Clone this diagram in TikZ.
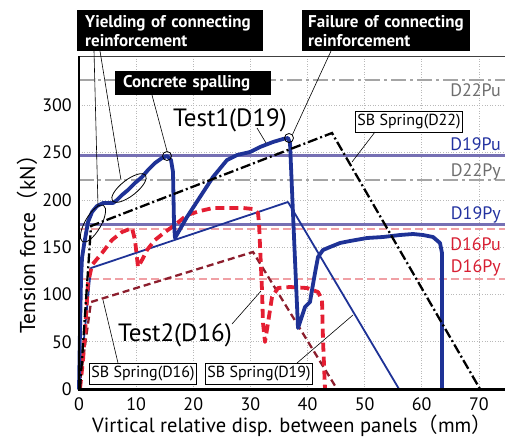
\documentclass[tikz,border=0pt]{standalone}
\usepackage{fontspec}
\setmainfont{PT Sans}
\newfontfamily\cjk{Noto Sans CJK JP}
\usetikzlibrary{shapes.geometric}
\definecolor{tblue}{RGB}{30,50,150}
\definecolor{tred}{RGB}{228,30,50}
\definecolor{dred}{RGB}{140,30,45}
\definecolor{refpurple}{RGB}{118,112,180}
\definecolor{refpink}{RGB}{240,160,165}
\definecolor{refgray}{RGB}{165,165,165}
\definecolor{lblgray}{RGB}{110,110,110}
\definecolor{lblblue}{RGB}{35,50,160}
\definecolor{lblred}{RGB}{215,30,50}
\definecolor{gridc}{RGB}{185,185,185}
\tikzset{
  gridline/.style={gridc, line width=0.6pt, dotted},
  refD22/.style={refgray, line width=2pt, dash pattern=on 15pt off 4pt on 3pt off 4pt},
  refD19/.style={refpurple, line width=3pt},
  refD16/.style={refpink, line width=2pt, dash pattern=on 8pt off 4pt},
  testone/.style={tblue, line width=3.8pt, line join=round, line cap=round},
  testtwo/.style={tred, line width=3.8pt, line join=round, dash pattern=on 9pt off 5pt},
  sbDxxii/.style={black, line width=2.3pt, dash pattern=on 10pt off 3pt on 2pt off 3pt},
  sbDxix/.style={tblue, line width=1.8pt, line join=round},
  sbDxvi/.style={dred, line width=2.3pt, dash pattern=on 7pt off 4pt},
  blackbox/.style={fill=black, text=white, font=\bfseries\fontsize{17}{19}\selectfont, anchor=north west, align=left, inner ysep=0pt},
  sbbox/.style={draw=black, fill=white, line width=0.9pt, font=\fontsize{16}{18}\selectfont, inner xsep=2pt, inner ysep=1pt, minimum height=21pt},
  leader/.style={black, line width=0.6pt},
  ticklbl/.style={font=\fontsize{18}{20}\selectfont, inner sep=0pt},
  rlbl/.style={font=\fontsize{18}{20}\selectfont, anchor=east, inner sep=0pt},
  bigtxt/.style={font=\fontsize{25}{27}\selectfont, inner sep=0pt},
  marker/.style={draw=black, line width=0.8pt, circle, minimum size=9pt, inner sep=0pt},
  oval/.style={draw=black, line width=0.8pt, ellipse, minimum width=42pt, minimum height=16pt, inner sep=0pt}
}
\begin{document}
\begin{tikzpicture}[x=1pt,y=-1pt]
\useasboundingbox (0,0) rectangle (505,440);
% grid
\foreach \gx in {136.1,193.3,250.4,307.5,364.6,421.7,478.9} \draw[gridline] (\gx,56) -- (\gx,389);
\foreach \gy in {341.7,294.4,247.1,199.8,152.5,105.2} \draw[gridline] (79,\gy) -- (505,\gy);
% reference lines
\draw[refD22] (79,80) -- (505,80);
\draw[refD19] (79,155) -- (505,155);
\draw[refD22] (79,179.5) -- (505,179.5);
\draw[refD19] (79,224) -- (505,224);
\draw[refD16] (79,229) -- (505,229);
\draw[refD16] (79,279) -- (505,279);
% right labels
\node[rlbl, text=lblgray] at (501,90) {D22Pu};
\node[rlbl, text=lblblue] at (501,144) {D19Pu};
\node[rlbl, text=lblgray] at (501,172) {D22Py};
\node[rlbl, text=lblblue] at (501,215) {D19Py};
\node[rlbl, text=lblred] at (501,244) {D16Pu};
\node[rlbl, text=lblred] at (501,268) {D16Py};
% SB springs
\draw[sbDxix] (79,389) -- (91,268) -- (288,202) -- (399,389);
\draw[sbDxvi] (79,389) -- (91,302) -- (253,252) -- (337,389);
% Test2
\draw[testtwo] (80,389) -- (83,360) -- (85,333) -- (88,283) -- (92,265) -- (102,253) -- (112,240) -- (122,232) -- (132,228) -- (135,240) -- (138,267) -- (142,260) -- (147,250) -- (155,240) -- (165,232) -- (175,225) -- (187,215) -- (200,211) -- (213,208) -- (227,208) -- (243,208) -- (253,209) -- (258,213) -- (259,223) -- (262,290) -- (263,323) -- (265,342) -- (268,323) -- (272,297) -- (278,288) -- (290,287) -- (307,288) -- (318,292) -- (322,300) -- (323,340) -- (325,389);
% Test1
\draw[testone] (79,389) -- (80,330) -- (81,280) -- (82,258) -- (84,245) -- (88,222) -- (92,212) -- (97,206) -- (103,203) -- (108,203) -- (113,203) -- (117,200) -- (122,195) -- (128,190) -- (135,183) -- (142,177) -- (148,170) -- (155,163) -- (162,158) -- (167,156) -- (171,160) -- (173,172) -- (174,223) -- (175,238) -- (187,217) -- (200,197) -- (213,177) -- (227,160) -- (237,155) -- (250,152) -- (260,147) -- (273,142) -- (283,139) -- (288,138) -- (290,143) -- (292,190) -- (295,260) -- (298,328) -- (300,322) -- (305,307) -- (310,302) -- (312,290) -- (315,273) -- (318,257) -- (323,250) -- (330,247) -- (340,243) -- (350,241) -- (367,238) -- (383,237) -- (400,235) -- (413,234) -- (423,235) -- (433,237) -- (440,243) -- (442,253) -- (442,389);
\draw[sbDxxii] (80,389) -- (91,226) -- (332,133) -- (480,389);
% axes frame
\draw[black!75, line width=0.8pt] (79,56) -- (505,56);
\draw[black, line width=2.4pt] (79,56) -- (79,389.5) -- (505,389.5);
% tick labels
\foreach \v/\py in {0/389,50/341.7,100/294.4,150/247.1,200/199.8,250/152.5,300/105.2}
  \node[ticklbl, anchor=east] at (72,\py) {\v};
\foreach \v/\px in {0/79,10/136.1,20/193.3,30/250.4,40/307.5,50/364.6,60/421.7,70/478.9}
  \node[ticklbl, anchor=north] at (\px,397) {\v};
% axis titles
\node[font=\fontsize{21.5}{23}\selectfont, rotate=90, inner sep=0pt] (ytitle) at (27,239) {Tension force{\cjk（}kN{\cjk）}};
\node[font=\fontsize{20.5}{22}\selectfont, inner sep=0pt] (xtitle) at (292,426) {Virtical relative disp. between panels{\cjk（}mm{\cjk）}};
% markers and ovals
\node[marker] (c1) at (167,156) {};
\node[marker] (c2) at (289,138) {};
\node[oval, rotate=60] (e1) at (93,223.5) {};
\node[oval, rotate=38] (e2) at (129,188) {};
% annotation boxes
\node[blackbox, text width=170pt, inner xsep=8pt, minimum height=41pt] (yld) at (77,10) {Yielding of connecting\\reinforcement};
\node[blackbox, text width=140pt, inner xsep=8pt, minimum height=24pt] (spl) at (115,71) {Concrete spalling};
\node[blackbox, text width=156pt, inner xsep=6pt, minimum height=41pt] (fail) at (302,10) {Failure of connecting\\reinforcement};
\coordinate (ya) at (94,51);
\coordinate (yb) at (100,51);
\coordinate (e1t) at (98,206);
\coordinate (e2t) at (121,180);
\draw[leader] (ya) -- (e1t);
\draw[leader] (yb) -- (e2t);
\coordinate (sa) at (152,95);
\draw[leader] (sa) -- (c1.north);
\coordinate (fa) at (331,51);
\draw[leader] (fa) -- (c2.north east);
% big labels
\node[bigtxt, anchor=base west] (t1) at (173,126) {Test1(D19)};
\node[bigtxt, anchor=base west] (t2) at (118,341) {Test2(D16)};
\coordinate (t1a) at (257,128);
\coordinate (t1b) at (266,143);
\draw[leader] (t1a) -- (t1b);
\coordinate (t2a) at (232,324);
\coordinate (t2b) at (261,291);
\draw[leader] (t2a) -- (t2b);
% SB spring boxes
\node[sbbox, anchor=north west] (sb22) at (355,111) {SB Spring(D22)};
\node[sbbox, anchor=north west] (sb16) at (89,363) {SB Spring(D16)};
\node[sbbox, anchor=north west] (sb19) at (205,363) {SB Spring(D19)};
\coordinate (sb22t) at (352,162);
\coordinate (sb16t) at (103,300);
\coordinate (sb19t) at (353,315);
\draw[leader] (375,132) -- (sb22t);
\draw[leader] (118,363) -- (sb16t);
\draw[leader] (297,363) -- (sb19t);
\end{tikzpicture}
\end{document}
